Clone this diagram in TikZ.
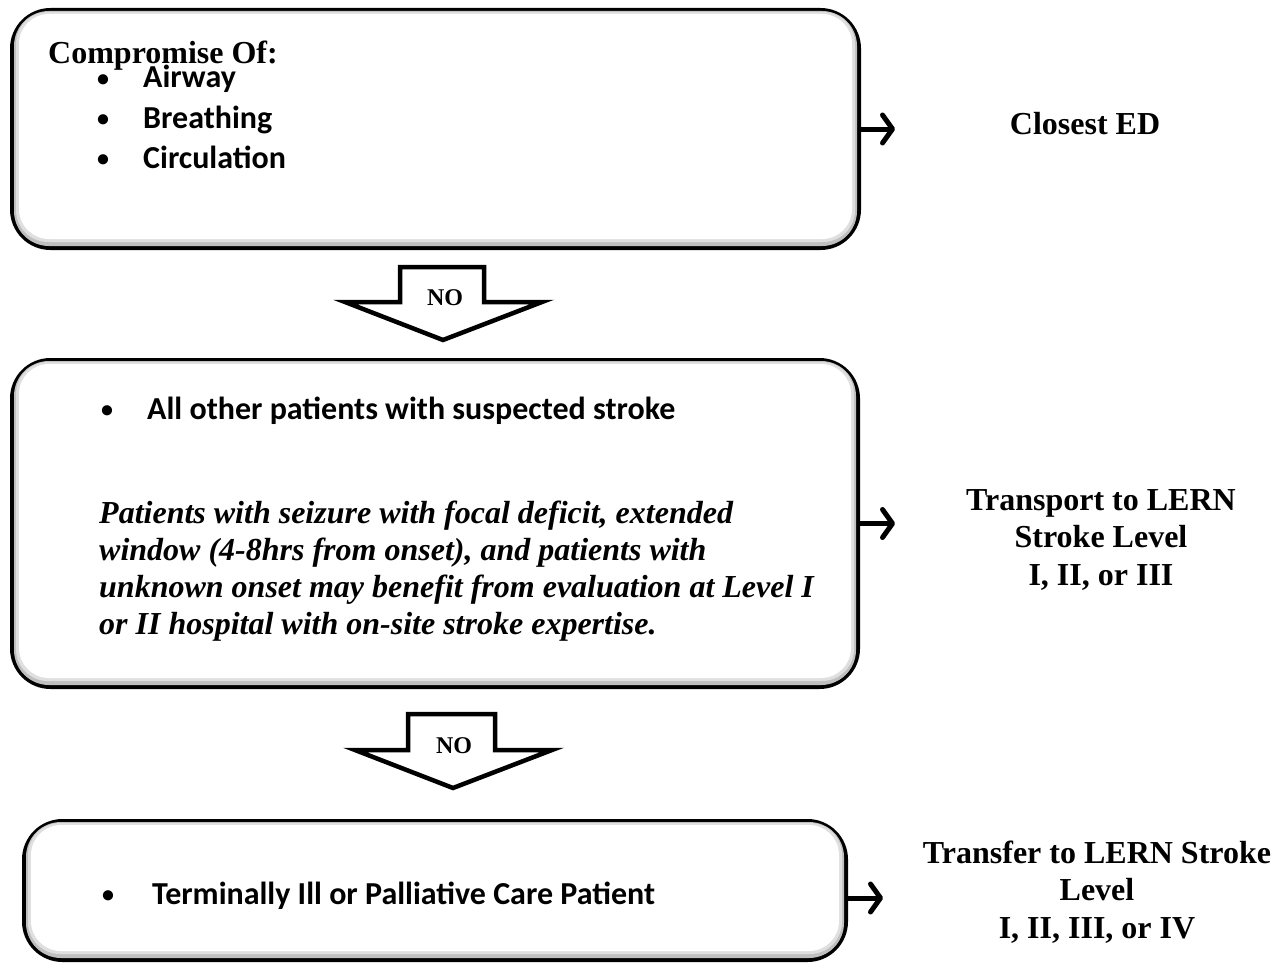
\documentclass[tikz,border=0pt]{standalone}
\usepackage{fontspec}
\setmainfont{Liberation Serif}
\newfontfamily\calibfont{Carlito}
\usetikzlibrary{arrows.meta}
\tikzset{
  outerbox/.style={draw=black, line width=5pt, fill=gray!75, rounded corners=38pt, inner sep=0pt},
  layA/.style={fill=gray!50, rounded corners=35pt},
  layB/.style={fill=gray!25, rounded corners=32pt},
  layC/.style={fill=white, rounded corners=30pt},
  sanstext/.style={font=\calibfont\bfseries\fontsize{32}{38}\selectfont, inner sep=0pt, anchor=base west},
  bullet/.style={font=\calibfont\bfseries\fontsize{24}{28}\selectfont, inner sep=0pt, anchor=base},
  seriftext/.style={font=\bfseries\fontsize{32}{38}\selectfont, inner sep=0pt, anchor=base west},
  italtext/.style={font=\bfseries\itshape\fontsize{32}{38}\selectfont, inner sep=0pt, anchor=base west},
  label/.style={font=\bfseries\fontsize{32}{37.5}\selectfont, inner sep=0pt, align=center, anchor=base},
  notext/.style={font=\bfseries\fontsize{24}{28}\selectfont, inner sep=0pt, anchor=base},
  conn/.style={line width=5pt, -{Straight Barb[length=10pt,width=28pt,line width=5pt,round]}},
  noarrow/.style={fill=white, draw=black, line width=4.5pt, line join=miter}
}
\newcommand{\bevelize}[1]{%
  \fill[layA] ([shift={(4,3)}]#1.north west) rectangle ([shift={(-4,-4)}]#1.south east);
  \fill[layB] ([shift={(6,4)}]#1.north west) rectangle ([shift={(-6,-8)}]#1.south east);
  \fill[layC] ([shift={(9,6)}]#1.north west) rectangle ([shift={(-9,-11)}]#1.south east);
}
\begin{document}
\begin{tikzpicture}[x=1pt, y=-1pt]
\useasboundingbox (0,0) rectangle (1285,966);

% Box 1
\node[outerbox, minimum width=846pt, minimum height=237pt] (b1) at (435.5,129) {};
\bevelize{b1}
\node[seriftext] (t1) at (48,63.5) {Compromise Of:};
\node[bullet] (d1a) at (103,86) {•};
\node[sanstext] (t1a) at (143,88) {Airway};
\node[bullet] (d1b) at (103,126) {•};
\node[sanstext] (t1b) at (143,128) {Breathing};
\node[bullet] (d1c) at (103,166) {•};
\node[sanstext] (t1c) at (143,168) {Circulation};

% Box 2
\node[outerbox, minimum width=845pt, minimum height=326pt] (b2) at (435,523.5) {};
\bevelize{b2}
\node[bullet] (d2) at (107,417) {•};
\node[sanstext] (t2) at (147,419) {All other patients with suspected stroke};
\node[italtext] (t2a) at (99,523) {Patients with seizure with focal deficit, extended};
\node[italtext] (t2b) at (99,560) {window (4-8hrs from onset), and patients with};
\node[italtext] (t2c) at (99,597) {unknown onset may benefit from evaluation at Level I};
\node[italtext] (t2d) at (99,634) {or II hospital with on-site stroke expertise.};

% Box 3
\node[outerbox, minimum width=821pt, minimum height=138pt] (b3) at (435,890.5) {};
\bevelize{b3}
\node[bullet] (d3) at (108,902) {•};
\node[sanstext] (t3) at (152,904) {Terminally Ill or Palliative Care Patient};

% NO arrows
\draw[noarrow] (400,267) -- (484,267) -- (484,302) -- (542,302) -- (443,340) -- (345,302) -- (400,302) -- cycle;
\node[notext] (no1) at (445,305) {NO};
\draw[noarrow] (408,714) -- (495,714) -- (495,750) -- (552,750) -- (453,788) -- (355,750) -- (408,750) -- cycle;
\node[notext] (no2) at (454,753) {NO};

% Right labels
\node[label] (r1) at (1085,134.5) {Closest ED};
\node[label] (r2) at (1101,585) {Transport to LERN\\Stroke Level\\I, II, or III};
\node[label] (r3) at (1097,938) {Transfer to LERN Stroke\\Level\\I, II, III, or IV};

% Connectors
\coordinate (e1) at (895,129);
\coordinate (e2) at (895,523.5);
\coordinate (e3) at (883,898);
\draw[conn] (b1.east) -- (e1);
\draw[conn] (b2.east) -- (e2);
\draw[conn] (b3.east |- e3) -- (e3);
\end{tikzpicture}
\end{document}
